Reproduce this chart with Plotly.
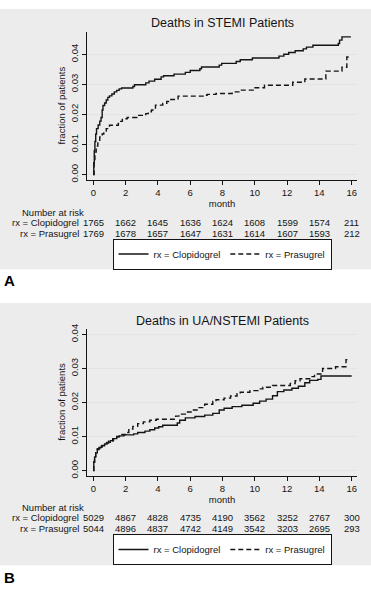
import plotly.graph_objects as go

# ---------------- data ----------------
month_ticks = [0, 2, 4, 6, 8, 10, 12, 14, 16]

a_clop_t = [0, 0.03, 0.06, 0.1, 0.15, 0.2, 0.3, 0.4, 0.48, 0.55, 0.6, 0.7, 0.8, 0.9, 1.0, 1.15, 1.3, 1.45,
            1.6, 1.75, 2.45, 2.55, 3.25, 3.45, 3.8, 4.2, 4.35, 5.0, 5.7, 6.0, 6.6, 6.7, 7.8, 7.95, 8.85, 9.1,
            9.85, 11.5, 11.8, 12.1, 12.5, 13.0, 13.2, 13.6, 15.17, 15.25, 15.4, 15.95]
a_clop_f = [0, 0.004, 0.008, 0.011, 0.0135, 0.0153, 0.0165, 0.0178, 0.019, 0.0215, 0.023, 0.0238, 0.0248,
            0.0257, 0.0262, 0.0268, 0.0275, 0.028, 0.0285, 0.0288, 0.0293, 0.0299, 0.0305, 0.0311, 0.0317,
            0.0325, 0.0329, 0.0334, 0.034, 0.0346, 0.0352, 0.0358, 0.0364, 0.037, 0.0376, 0.0382, 0.0388,
            0.0394, 0.04, 0.0406, 0.0412, 0.0418, 0.0424, 0.043, 0.0436, 0.0447, 0.0458, 0.0458]

a_pras_t = [0, 0.05, 0.1, 0.18, 0.28, 0.4, 0.55, 0.65, 0.8, 1.0, 1.55, 1.65, 1.8, 2.1, 2.7, 3.25, 3.4, 3.6,
            3.85, 4.3, 4.55, 4.8, 5.25, 6.9, 7.05, 7.6, 8.6, 9.1, 9.9, 10.6, 12.35, 13.1, 14.4, 15.4, 15.7, 15.9]
a_pras_f = [0, 0.004, 0.0075, 0.0095, 0.0108, 0.0125, 0.0135, 0.0145, 0.0153, 0.0164, 0.017, 0.0177, 0.0186,
            0.019, 0.0197, 0.0203, 0.0209, 0.0215, 0.0231, 0.0237, 0.0243, 0.025, 0.0261, 0.0264, 0.0267,
            0.027, 0.0275, 0.0281, 0.0289, 0.0297, 0.0307, 0.0318, 0.0344, 0.0357, 0.0391, 0.0391]

b_clop_t = [0, 0.03, 0.08, 0.15, 0.25, 0.35, 0.5, 0.7, 0.85, 1.05, 1.25, 1.45, 1.6, 1.9, 2.5, 2.75, 3.2, 3.5,
            3.8, 4.05, 4.3, 5.2, 5.35, 5.7, 6.3, 6.9, 7.4, 7.8, 8.1, 8.6, 9.2, 9.9, 10.3, 10.7, 11.1, 11.4,
            11.8, 12.3, 12.7, 13.1, 13.4, 13.9, 14.1, 16.0]
b_clop_f = [0, 0.0025, 0.004, 0.0052, 0.0062, 0.0068, 0.0073, 0.0078, 0.0083, 0.0088, 0.0094, 0.0099, 0.0102,
            0.0105, 0.0108, 0.0112, 0.0116, 0.012, 0.0125, 0.0129, 0.0133, 0.014, 0.0148, 0.0155, 0.0159,
            0.0163, 0.0168, 0.0178, 0.0183, 0.0188, 0.0192, 0.0198, 0.0204, 0.021, 0.022, 0.0232, 0.0237,
            0.0242, 0.0248, 0.0258, 0.0265, 0.0268, 0.0278, 0.0278]

b_pras_t = [0, 0.03, 0.08, 0.15, 0.25, 0.4, 0.55, 0.75, 0.95, 1.2, 1.45, 1.7, 2.0, 2.2, 2.45, 2.75, 3.1, 3.5,
            3.9, 5.1, 5.3, 5.7, 6.1, 6.5, 6.9, 7.4, 7.6, 8.1, 8.5, 8.9, 9.1, 9.7, 10.2, 10.5, 11.1, 12.2, 12.5,
            12.8, 13.4, 13.7, 14.2, 15.0, 15.65, 15.9]
b_pras_f = [0, 0.0025, 0.0042, 0.0055, 0.0064, 0.0069, 0.0074, 0.0081, 0.0087, 0.0094, 0.01, 0.0106, 0.0112,
            0.0122, 0.013, 0.0138, 0.0143, 0.0148, 0.0151, 0.016, 0.0166, 0.0172, 0.0178, 0.0185, 0.0195,
            0.0203, 0.0208, 0.0213, 0.0219, 0.0226, 0.023, 0.0235, 0.024, 0.0245, 0.025, 0.0256, 0.0264,
            0.027, 0.0276, 0.0284, 0.03, 0.0305, 0.0326, 0.0326]

a_risk_clop = [1765, 1662, 1645, 1636, 1624, 1608, 1599, 1574, 211]
a_risk_pras = [1769, 1678, 1657, 1647, 1631, 1614, 1607, 1593, 212]
b_risk_clop = [5029, 4867, 4828, 4735, 4190, 3562, 3252, 2767, 300]
b_risk_pras = [5044, 4896, 4837, 4742, 4149, 3542, 3203, 2695, 293]

# ---------------- layout helpers ----------------
W, H = 371, 589
FONT = "Liberation Sans, Arial, sans-serif"
GREY = "rgb(236,236,236)"
INK = "rgb(20,20,20)"


def py(px):
    return 1 - px / H


fig = go.Figure()

line_solid = dict(color=INK, width=1.4, shape="hv")
line_dash = dict(color=INK, width=1.4, shape="hv", dash="5px,3px")

fig.add_trace(go.Scatter(x=a_clop_t, y=a_clop_f, mode="lines", line=line_solid, name="rx = Clopidogrel",
                         xaxis="x", yaxis="y", legend="legend"))
fig.add_trace(go.Scatter(x=a_pras_t, y=a_pras_f, mode="lines", line=line_dash, name="rx = Prasugrel",
                         xaxis="x", yaxis="y", legend="legend"))
fig.add_trace(go.Scatter(x=b_clop_t, y=b_clop_f, mode="lines", line=line_solid, name="rx = Clopidogrel",
                         xaxis="x2", yaxis="y2", legend="legend2"))
fig.add_trace(go.Scatter(x=b_pras_t, y=b_pras_f, mode="lines", line=line_dash, name="rx = Prasugrel",
                         xaxis="x2", yaxis="y2", legend="legend2"))

xdom = [87 / W, 357 / W]
common_x = dict(domain=xdom, range=[-0.39, 16.33], tickvals=month_ticks, ticks="outside", ticklen=4,
                tickcolor=INK, showline=True, linecolor=INK, linewidth=1, showgrid=False, zeroline=False,
                tickfont=dict(size=9.5, color=INK, family=FONT),
                title=dict(text="month", font=dict(size=9.5, color=INK, family=FONT), standoff=0))
common_y = dict(tickvals=[0, 0.01, 0.02, 0.03, 0.04], tickformat=".2f", ticks="outside", ticklen=4,
                tickcolor=INK, showline=True, linecolor=INK, linewidth=1, showgrid=True,
                gridcolor="rgb(228,228,228)", gridwidth=1, zeroline=False, tickangle=-90,
                tickfont=dict(size=9.5, color=INK, family=FONT),
                title=dict(text="fraction of patients", font=dict(size=9.5, color=INK, family=FONT), standoff=1))

legend_common = dict(orientation="h", xanchor="center", yanchor="middle", bgcolor="white",
                     bordercolor=INK, borderwidth=1, font=dict(size=9.5, color=INK, family=FONT),
                     itemwidth=30, tracegroupgap=0)

fig.update_layout(
    width=W, height=H, margin=dict(l=0, r=0, t=0, b=0),
    paper_bgcolor="white", plot_bgcolor="white",
    font=dict(family=FONT, color=INK),
    xaxis=dict(common_x, anchor="y"),
    yaxis=dict(common_y, domain=[py(177), py(27)], range=[-0.00164, 0.04754], anchor="x"),
    xaxis2=dict(common_x, anchor="y2"),
    yaxis2=dict(common_y, domain=[py(477), py(328)], range=[-0.00145, 0.04174], anchor="x2"),
    legend=dict(legend_common, x=222 / W, y=py(252.5)),
    legend2=dict(legend_common, x=222 / W, y=py(552)),
    showlegend=True,
)

# grey graph regions
fig.add_shape(type="rect", xref="paper", yref="paper", x0=0, x1=1, y0=py(268), y1=py(4),
              fillcolor=GREY, line_width=0, layer="below")
fig.add_shape(type="rect", xref="paper", yref="paper", x0=0, x1=1, y0=py(568), y1=py(302),
              fillcolor=GREY, line_width=0, layer="below")

ann = []
# titles
ann.append(dict(text="Deaths in STEMI Patients", x=222 / W, y=py(18), xref="paper", yref="paper",
                showarrow=False, xanchor="center", yanchor="middle", font=dict(size=12.5, color=INK)))
ann.append(dict(text="Deaths in UA/NSTEMI Patients", x=222 / W, y=py(320), xref="paper", yref="paper",
                showarrow=False, xanchor="center", yanchor="middle", font=dict(size=12.5, color=INK)))

# panel letters
ann.append(dict(text="<b>A</b>", x=2 / W, y=py(279), xref="paper", yref="paper", showarrow=False,
                xanchor="left", yanchor="middle", font=dict(size=15, color="black")))
ann.append(dict(text="<b>B</b>", x=2 / W, y=py(580), xref="paper", yref="paper", showarrow=False,
                xanchor="left", yanchor="middle", font=dict(size=15, color="black")))


def risk_table(xref, y_head, y1, y2, clop, pras):
    f = dict(size=9.5, color=INK)
    ann.append(dict(text="Number at risk", x=20 / W, y=py(y_head), xref="paper", yref="paper",
                    showarrow=False, xanchor="left", yanchor="middle", font=f))
    for yy, label, vals in ((y1, "rx = Clopidogrel", clop), (y2, "rx = Prasugrel", pras)):
        ann.append(dict(text=label, x=0, y=py(yy), xref=xref, yref="paper", showarrow=False,
                        xanchor="right", yanchor="middle", xshift=-12, font=f))
        for m, v in zip(month_ticks, vals):
            ann.append(dict(text=str(v), x=m, y=py(yy), xref=xref, yref="paper", showarrow=False,
                            xanchor="center", yanchor="middle", font=f))


risk_table("x", 210, 221, 231.5, a_risk_clop, a_risk_pras)
risk_table("x2", 509, 520, 530.5, b_risk_clop, b_risk_pras)

fig.update_layout(annotations=ann)
fig.write_html("out.html", config={"displayModeBar": False},
               post_script="document.body.style.margin='0';document.body.style.overflow='hidden';")
